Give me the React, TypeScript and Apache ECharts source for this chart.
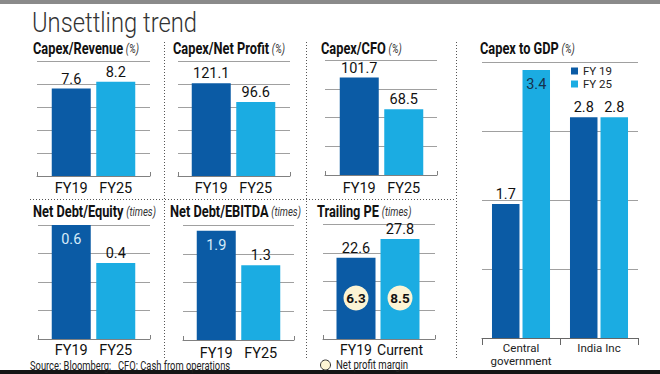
import React, { useEffect, useRef } from 'react';
import * as echarts from 'echarts';

// ---------- data ----------
const CATS_FY = ['FY19', 'FY25'];
const CAPEX_REVENUE = [7.6, 8.2];
const CAPEX_NET_PROFIT = [121.1, 96.6];
const CAPEX_CFO = [101.7, 68.5];
const NET_DEBT_EQUITY = [0.6, 0.4];
const NET_DEBT_EBITDA = [1.9, 1.3];
const PE_CATS = ['FY19', 'Current'];
const TRAILING_PE = [22.6, 27.8];
const NET_PROFIT_MARGIN = [6.3, 8.5];
const GDP_CATS = ['Central\ngovernment', 'India Inc'];
const GDP_FY19 = [1.7, 2.8];
const GDP_FY25 = [3.4, 2.8];
const GDP_SERIES = ['FY 19', 'FY 25'];

// ---------- styles ----------
const FONT = "Roboto, 'DejaVu Sans Condensed', sans-serif";
const DARK = '#0b5ba5';
const LIGHT = '#1bace2';
const GRIDC = '#a0a0a0';
const AXISC = '#808080';
const CREAM = '#fcf4d4';
const CIRCLE_Y = 11.4; // vertical placement of margin bubbles (axis units)

type Panel = {
  title: string; unit: string; tx: number; ty: number;
  lineL: number; lineR: number; top: number; base: number;
  barL: number; barR: number; max: number; interval: number;
  cats: string[]; values: number[]; inside: number[]; labelMargin: number; catSize: number;
};

const panels: Panel[] = [
  { title: 'Capex/Revenue', unit: '(%)', tx: 33, ty: 49, lineL: 37, lineR: 150, top: 61, base: 176, barL: 49, barR: 138, max: 10, interval: 2, cats: CATS_FY, values: CAPEX_REVENUE, inside: [], labelMargin: 5, catSize: 14.5 },
  { title: 'Capex/Net Profit', unit: '(%)', tx: 173, ty: 49, lineL: 178, lineR: 290, top: 61, base: 176, barL: 189, barR: 278, max: 150, interval: 30, cats: CATS_FY, values: CAPEX_NET_PROFIT, inside: [], labelMargin: 5, catSize: 14.5 },
  { title: 'Capex/CFO', unit: '(%)', tx: 321, ty: 49, lineL: 325, lineR: 437, top: 60, base: 175, barL: 337, barR: 426, max: 120, interval: 30, cats: CATS_FY, values: CAPEX_CFO, inside: [], labelMargin: 6, catSize: 14.5 },
  { title: 'Net Debt/Equity', unit: '(times)', tx: 33, ty: 212, lineL: 38, lineR: 150, top: 225, base: 339, barL: 49, barR: 138, max: 0.6, interval: 0.15, cats: CATS_FY, values: NET_DEBT_EQUITY, inside: [0], labelMargin: 4, catSize: 14.5 },
  { title: 'Net Debt/EBITDA', unit: '(times)', tx: 170, ty: 212, lineL: 183, lineR: 294, top: 225, base: 340, barL: 194, barR: 283, max: 2, interval: 0.5, cats: CATS_FY, values: NET_DEBT_EBITDA, inside: [0], labelMargin: 6, catSize: 14.5 },
  { title: 'Trailing PE', unit: '(times)', tx: 317, ty: 212, lineL: 323, lineR: 435, top: 224, base: 339, barL: 334, barR: 422, max: 32, interval: 8, cats: PE_CATS, values: TRAILING_PE, inside: [], labelMargin: 4, catSize: 14 },
];

function titleText(x: number, y: number, title: string, unit: string) {
  return {
    type: 'text', x, y, z: 10, scaleX: 0.8,
    style: {
      text: `{b|${title}} {u|${unit}}`,
      verticalAlign: 'middle',
      rich: {
        b: { fontFamily: FONT, fontWeight: 'bold', fontSize: 16, fill: '#111' },
        u: { fontFamily: FONT, fontStyle: 'italic', fontSize: 12, fill: '#333' },
      },
    },
  };
}

function dotted(x1: number, y1: number, x2: number, y2: number) {
  return {
    type: 'line', z: 1,
    shape: { x1, y1, x2, y2 },
    style: { stroke: '#555', lineWidth: 1, lineDash: [1, 2] },
  };
}

function buildOption() {
  const grid: any[] = [];
  const xAxis: any[] = [];
  const yAxis: any[] = [];
  const series: any[] = [];
  const graphic: any[] = [];

  panels.forEach((p, i) => {
    const h = p.base - p.top;
    grid.push({ left: p.lineL, top: p.top, width: p.lineR - p.lineL, height: h });
    grid.push({ left: p.barL, top: p.top, width: p.barR - p.barL, height: h });
    xAxis.push({
      type: 'value', gridIndex: 2 * i, min: 0, max: 1, interval: 1,
      axisLine: { show: true, lineStyle: { color: AXISC } },
      axisTick: { show: true, inside: true, length: 4, lineStyle: { color: AXISC } },
      axisLabel: { show: false }, splitLine: { show: false },
    });
    yAxis.push({
      type: 'value', gridIndex: 2 * i, min: 0, max: p.max, interval: p.interval,
      axisLine: { show: false }, axisTick: { show: false }, axisLabel: { show: false },
      splitLine: { show: true, lineStyle: { color: GRIDC, width: 1 } },
    });
    xAxis.push({
      type: 'category', gridIndex: 2 * i + 1, data: p.cats,
      axisLine: { show: false }, axisTick: { show: false },
      axisLabel: { interval: 0, fontFamily: FONT, fontSize: p.catSize, color: '#111', margin: p.labelMargin },
    });
    yAxis.push({ type: 'value', gridIndex: 2 * i + 1, min: 0, max: p.max, show: false });
    series.push({
      type: 'bar', name: p.title, xAxisIndex: 2 * i + 1, yAxisIndex: 2 * i + 1,
      barWidth: 39, silent: true,
      label: { show: true, position: 'top', distance: 2, fontFamily: FONT, fontSize: 14.5, color: '#111' },
      data: p.values.map((v, j) => ({
        value: v,
        itemStyle: { color: j === 0 ? DARK : LIGHT },
        label: p.inside.includes(j) ? { position: 'insideTop', distance: 7, color: '#d6ebf9' } : undefined,
      })),
    });
    graphic.push(titleText(p.tx, p.ty, p.title, p.unit));
  });

  // margin bubbles on trailing PE bars
  series.push({
    type: 'scatter', xAxisIndex: 11, yAxisIndex: 11, symbolSize: 25, z: 5, silent: true,
    itemStyle: { color: CREAM, opacity: 1 },
    label: {
      show: true, position: 'inside', fontFamily: FONT, fontWeight: 'bold', fontSize: 13.5, color: '#111',
      formatter: (prm: any) => String(NET_PROFIT_MARGIN[prm.dataIndex]),
    },
    data: PE_CATS.map((_, j) => [j, CIRCLE_Y]),
  });

  // capex to GDP
  grid.push({ left: 482, top: 62, width: 156, height: 276 });
  xAxis.push({
    type: 'category', gridIndex: 12, data: GDP_CATS,
    axisLine: { show: true, lineStyle: { color: '#666' } },
    axisTick: { show: true, length: 7, lineStyle: { color: '#666' } },
    axisLabel: { interval: 0, fontFamily: FONT, fontSize: 11.5, lineHeight: 13, color: '#222', margin: 3 },
  });
  yAxis.push({
    type: 'value', gridIndex: 12, min: 0, max: 3.5, interval: 0.875,
    axisLine: { show: false }, axisTick: { show: false }, axisLabel: { show: false },
    splitLine: { show: true, lineStyle: { color: GRIDC } },
  });
  const gdpLabel = { show: true, position: 'top', distance: 2, fontFamily: FONT, fontSize: 14.5, color: '#111' };
  series.push({
    type: 'bar', name: GDP_SERIES[0], xAxisIndex: 12, yAxisIndex: 12, barWidth: 27.5, barGap: '11%',
    itemStyle: { color: DARK }, label: gdpLabel, data: GDP_FY19, silent: true,
  });
  series.push({
    type: 'bar', name: GDP_SERIES[1], xAxisIndex: 12, yAxisIndex: 12, barWidth: 27.5, barGap: '11%',
    itemStyle: { color: LIGHT }, label: gdpLabel, silent: true,
    data: GDP_FY25.map((v, j) => (j === 0 ? { value: v, label: { position: 'insideTop', distance: 7, color: '#16324c' } } : v)),
  });
  graphic.push(titleText(480, 49, 'Capex to GDP', '(%)'));

  // frame elements
  graphic.push({ type: 'rect', shape: { x: 0, y: 0, width: 660, height: 4 }, style: { fill: '#8a8a8a' } });
  graphic.push({ type: 'rect', shape: { x: 0, y: 370, width: 660, height: 4 }, style: { fill: '#151515' } });
  graphic.push({
    type: 'text', x: 32, y: 22, scaleX: 0.88,
    style: { text: 'Unsettling trend', fontFamily: 'Roboto', fontWeight: 300, fontSize: 27, fill: '#333', verticalAlign: 'middle' },
  });
  graphic.push(dotted(164.5, 42, 164.5, 358));
  graphic.push(dotted(306.5, 42, 306.5, 358));
  graphic.push(dotted(456.5, 42, 456.5, 358));
  graphic.push(dotted(30, 199.5, 456, 199.5));
  graphic.push({
    type: 'text', x: 30, y: 366, scaleX: 0.78,
    style: { text: 'Source: Bloomberg;   CFO: Cash from operations', fontFamily: FONT, fontSize: 12, fill: '#222', verticalAlign: 'middle' },
  });
  graphic.push({ type: 'circle', shape: { cx: 325.5, cy: 365, r: 5 }, style: { fill: CREAM, stroke: '#333', lineWidth: 1 } });
  graphic.push({
    type: 'text', x: 336, y: 365, scaleX: 0.8,
    style: { text: 'Net profit margin', fontFamily: FONT, fontSize: 12, fill: '#222', verticalAlign: 'middle' },
  });

  return {
    animation: false,
    backgroundColor: '#ffffff',
    grid, xAxis, yAxis, series, graphic,
    legend: {
      data: GDP_SERIES, orient: 'vertical', left: 571, top: 65, padding: 0,
      itemWidth: 7, itemHeight: 7, itemGap: 1,
      icon: 'rect', selectedMode: false,
      textStyle: { fontFamily: FONT, fontSize: 11.5, lineHeight: 12, color: '#222' },
    },
  };
}

export default function App() {
  const ref = useRef<HTMLDivElement>(null);
  useEffect(() => {
    if (!ref.current) return;
    const chart = echarts.init(ref.current, undefined, { renderer: 'svg' });
    chart.setOption(buildOption() as any);
    return () => chart.dispose();
  }, []);
  return (
    <div
      ref={ref}
      style={{ position: 'fixed', left: 0, top: 0, width: 660, height: 374, background: '#fff' }}
    />
  );
}
